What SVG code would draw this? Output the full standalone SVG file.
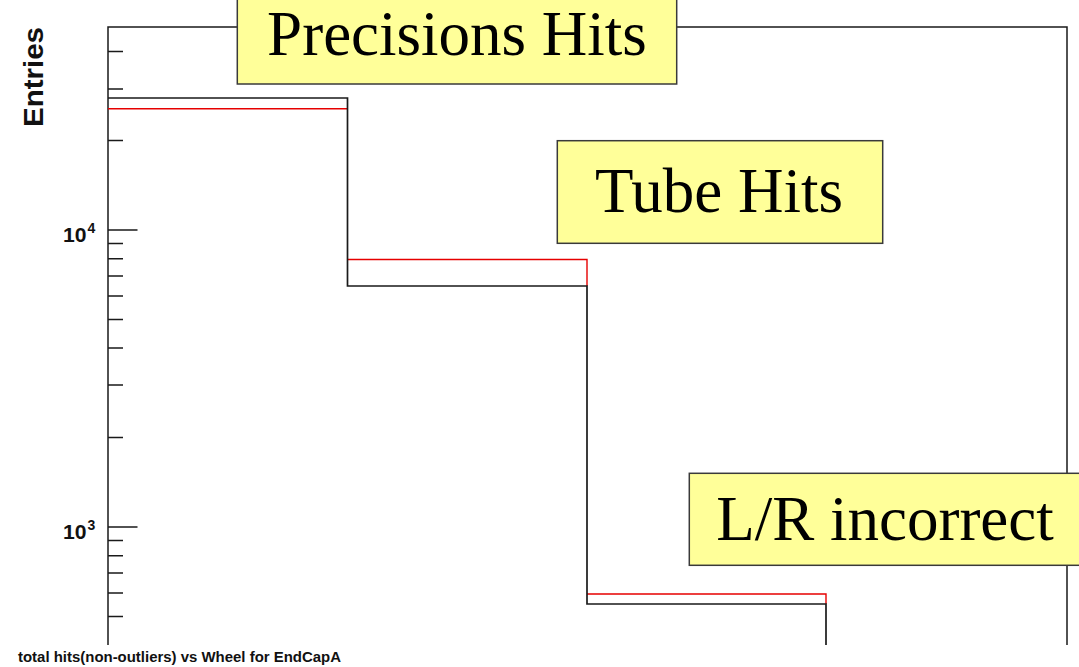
<svg xmlns="http://www.w3.org/2000/svg" width="1079" height="667" viewBox="0 0 1079 667">
<style>
.ax{stroke:#1a1a1a;stroke-width:1.5;fill:none}
.blk{stroke:#1a1a1a;stroke-width:1.7;fill:none}
.red{stroke:#e60000;stroke-width:1.4;fill:none}
.lbl{font-family:"Liberation Sans",Arial,sans-serif;font-weight:bold;fill:#111}
.box{fill:#ffff99;stroke:#3a3a3a;stroke-width:1.5}
.bt{font-family:"Liberation Serif","Times New Roman",serif;font-size:63px;fill:#000;text-anchor:middle}
</style>
<rect width="1079" height="667" fill="#fff"/>
<g id="frame">
<path class="ax" d="M108,645 V27 H1067 V645"/>
<path class="ax" d="M108,51.5 H123 M108,89 H123 M108,140.5 H123 M108,230 H137.5 M108,243.5 H123 M108,258.8 H123 M108,276 H123 M108,296 H123 M108,319.5 H123 M108,348 H123 M108,385 H123 M108,437.6 H123 M108,527 H137.5 M108,540.6 H123 M108,555.8 H123 M108,573 H123 M108,592.9 H123 M108,616.4 H123"/>
</g>
<g id="labels">
<text class="lbl" x="43" y="77" font-size="27" text-anchor="middle" transform="rotate(-90 43 77)" textLength="100" lengthAdjust="spacingAndGlyphs">Entries</text>
<text class="lbl" x="63" y="241.7" font-size="20" textLength="23.5" lengthAdjust="spacingAndGlyphs">10</text>
<text class="lbl" x="87.5" y="233" font-size="14">4</text>
<text class="lbl" x="63" y="538.7" font-size="20" textLength="23.5" lengthAdjust="spacingAndGlyphs">10</text>
<text class="lbl" x="87.5" y="530" font-size="14">3</text>
<text class="lbl" x="18" y="661.5" font-size="15" textLength="323" lengthAdjust="spacingAndGlyphs">total hits(non-outliers) vs Wheel for EndCapA</text>
</g>
<g id="connectors">
<path id="hist-red" class="red" d="M108,108.7 H347.5 M347.5,259.5 H587 V286 M587,594 H826 V604"/>
<path id="hist-black" class="blk" d="M108,98 H347.5 V286 H587 V604 H826 V645"/>
</g>
<g id="precisions-hits">
<rect class="box" x="237.3" y="-2" width="439.4" height="86"/>
<text class="bt" x="457" y="55">Precisions Hits</text>
</g>
<g id="tube-hits">
<rect class="box" x="557.3" y="140.7" width="325.4" height="102.6"/>
<text class="bt" x="719" y="211.7">Tube Hits</text>
</g>
<g id="lr-incorrect">
<rect class="box" x="689.3" y="473.3" width="400" height="92"/>
<text class="bt" x="885" y="540">L/R incorrect</text>
</g>
</svg>
